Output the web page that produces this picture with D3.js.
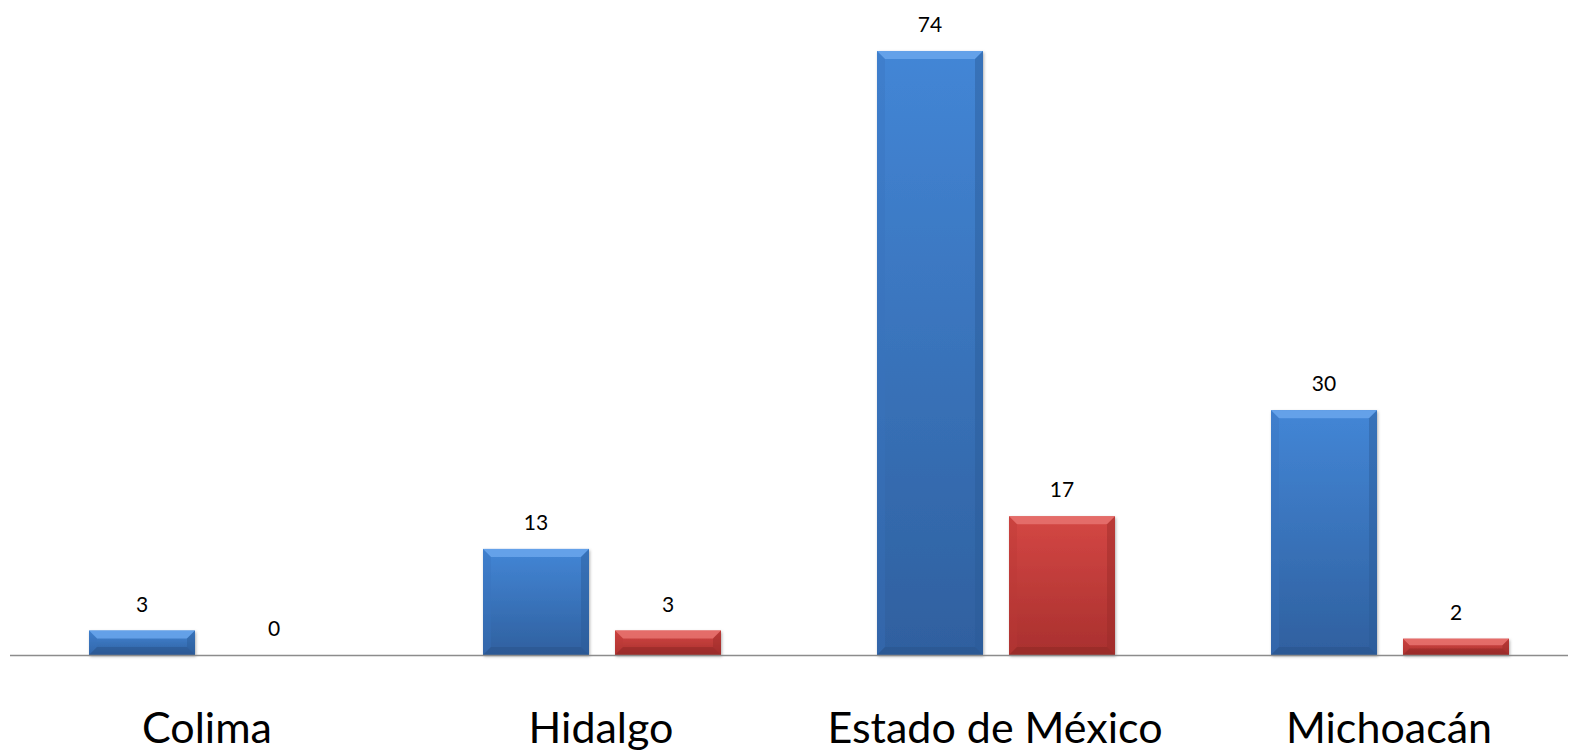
<!DOCTYPE html>
<html>
<head>
<meta charset="utf-8">
<script src="https://cdn.jsdelivr.net/npm/d3@7"></script>
<style>
  body { margin: 0; background: #fff; }
  svg { display: block; }
</style>
</head>
<body>
<div id="chart"></div>
<script>
const categories = ["Colima", "Hidalgo", "Estado de México", "Michoacán"];
const seriesNames = ["blue", "red"];
const blueValues = [3, 13, 74, 30];
const redValues = [0, 3, 17, 2];

const W = 1596, H = 752;
const margin = { left: 10, right: 10, top: 2, bottom: 97 };
const baseY = H - margin.bottom; // axis line

const svg = d3.select("#chart").append("svg")
  .attr("width", W).attr("height", H);

const defs = svg.append("defs");
// gradients for bar body
function grad(id, c1, c2) {
  const g = defs.append("linearGradient").attr("id", id)
    .attr("x1", 0).attr("y1", 0).attr("x2", 0).attr("y2", 1);
  g.append("stop").attr("offset", "0%").attr("stop-color", c1);
  g.append("stop").attr("offset", "100%").attr("stop-color", c2);
}
grad("g-blue", "#4386d6", "#2f609f");
grad("g-red", "#d44744", "#a9302e");

const filt = defs.append("filter").attr("id", "shadow")
  .attr("x", "-10%").attr("y", "-10%").attr("width", "130%").attr("height", "130%");
filt.append("feDropShadow").attr("dx", 1).attr("dy", 1.5)
  .attr("stdDeviation", 1.5).attr("flood-color", "#000").attr("flood-opacity", 0.3);

const x = d3.scaleBand()
  .domain(categories)
  .range([margin.left, W - margin.right]);

// two bars inside each category, leaving room at both sides
const xSub = d3.scaleBand()
  .domain(seriesNames)
  .range([79, x.bandwidth() - 77])
  .paddingInner(0.197);

const y = d3.scaleLinear()
  .domain([0, 80])
  .range([baseY, margin.top]);

const rows = categories.map((c, i) => ({
  cat: c,
  vals: [
    { key: "blue", value: blueValues[i] },
    { key: "red", value: redValues[i] }
  ]
}));

const colors = {
  blue: { body: "url(#g-blue)", top: "#6aa6ec", side: "#3a74bd", sideR: "#2b5a96", bottom: "#27518a" },
  red: { body: "url(#g-red)", top: "#e87370", side: "#bb3a37", sideR: "#9a2b29", bottom: "#8c2624" }
};

const groups = svg.append("g").selectAll("g")
  .data(rows).enter().append("g")
  .attr("transform", d => `translate(${x(d.cat)},0)`);

const bars = groups.selectAll("g.bar")
  .data(d => d.vals).enter().append("g").attr("class", "bar");

bars.each(function(d) {
  const g = d3.select(this);
  const x0 = xSub(d.key), w = xSub.bandwidth();
  const y0 = y(d.value), h = baseY - y0;
  if (h <= 0) return;
  const c = colors[d.key];
  const b = Math.min(8, h / 2.5);
  g.append("rect").attr("x", x0).attr("y", y0).attr("width", w).attr("height", h)
    .attr("fill", c.body).attr("filter", "url(#shadow)");
  // bevel top
  g.append("polygon")
    .attr("points", [[x0, y0], [x0 + w, y0], [x0 + w - b, y0 + b], [x0 + b, y0 + b]].join(" "))
    .attr("fill", c.top).attr("opacity", 0.85);
  // bevel left
  g.append("polygon")
    .attr("points", [[x0, y0], [x0 + b, y0 + b], [x0 + b, baseY - b], [x0, baseY]].join(" "))
    .attr("fill", c.side).attr("opacity", 0.35);
  // bevel right
  g.append("polygon")
    .attr("points", [[x0 + w, y0], [x0 + w - b, y0 + b], [x0 + w - b, baseY - b], [x0 + w, baseY]].join(" "))
    .attr("fill", c.sideR).attr("opacity", 0.45);
  // bevel bottom
  g.append("polygon")
    .attr("points", [[x0, baseY], [x0 + b, baseY - b], [x0 + w - b, baseY - b], [x0 + w, baseY]].join(" "))
    .attr("fill", c.bottom).attr("opacity", 0.5);
});

// value labels
bars.append("text")
  .attr("x", d => xSub(d.key) + xSub.bandwidth() / 2)
  .attr("y", d => y(d.value) - 19)
  .attr("text-anchor", "middle")
  .attr("font-family", "Lato, 'Open Sans', sans-serif")
  .attr("font-size", 21)
  .attr("fill", "#000")
  .text(d => d.value);

// axis line
svg.append("line")
  .attr("x1", margin.left).attr("x2", 1568)
  .attr("y1", baseY + 0.5).attr("y2", baseY + 0.5)
  .attr("stroke", "#8c8c8c").attr("stroke-width", 1.5);

// category labels
svg.append("g").selectAll("text")
  .data(categories).enter().append("text")
  .attr("x", d => x(d) + x.bandwidth() / 2)
  .attr("y", 743)
  .attr("text-anchor", "middle")
  .attr("font-family", "Lato, 'Open Sans', sans-serif")
  .attr("font-size", 43)
  .attr("fill", "#000")
  .text(d => d);
</script>
</body>
</html>
